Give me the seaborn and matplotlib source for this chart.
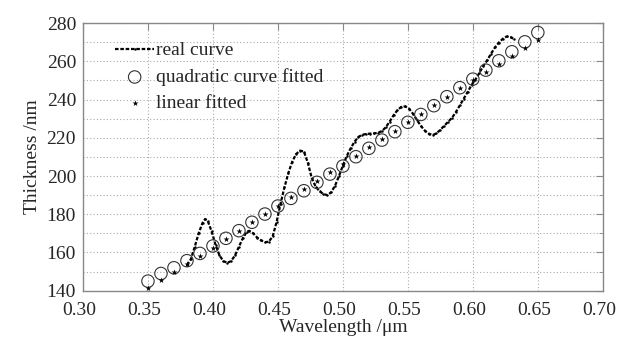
import numpy as np
import pandas as pd
import matplotlib
matplotlib.use("Agg")
import matplotlib.pyplot as plt
import matplotlib.transforms as mtransforms
import seaborn as sns
from matplotlib.ticker import MultipleLocator

# fitted points, every 0.01 um
fit_wavelength = [0.35, 0.36, 0.37, 0.38, 0.39, 0.40, 0.41, 0.42, 0.43, 0.44, 0.45,
                  0.46, 0.47, 0.48, 0.49, 0.50, 0.51, 0.52, 0.53, 0.54, 0.55, 0.56,
                  0.57, 0.58, 0.59, 0.60, 0.61, 0.62, 0.63, 0.64, 0.65]
quadratic_fit = [145.0, 149.0, 152.0, 155.7, 159.5, 163.4, 167.4, 171.4, 175.8, 180.1, 184.3,
                 188.3, 192.3, 196.7, 201.0, 205.2, 210.1, 214.5, 218.8, 223.2, 228.1, 232.2,
                 236.8, 241.5, 246.2, 250.7, 255.4, 260.3, 265.0, 270.2, 275.1]
linear_fit = [141.4, 145.6, 149.6, 153.8, 158.0, 162.5, 166.9, 171.3, 175.7, 180.0, 184.4,
              188.8, 193.2, 197.6, 201.9, 206.3, 210.7, 215.1, 219.5, 223.8, 228.2, 232.6,
              237.0, 241.4, 245.8, 250.2, 254.2, 258.4, 262.7, 266.8, 271.1]

# measured curve
real_wavelength = [0.380, 0.383, 0.386, 0.389, 0.392, 0.394, 0.396, 0.399, 0.402, 0.405,
                   0.408, 0.411, 0.414, 0.417, 0.420, 0.423, 0.426, 0.428, 0.431, 0.434,
                   0.437, 0.440, 0.443, 0.446, 0.449, 0.452, 0.455, 0.458, 0.461, 0.464,
                   0.467, 0.470, 0.473, 0.476, 0.479, 0.482, 0.485, 0.488, 0.491, 0.494,
                   0.497, 0.500, 0.503, 0.506, 0.509, 0.512, 0.515, 0.518, 0.521, 0.524,
                   0.527, 0.530, 0.533, 0.536, 0.539, 0.542, 0.545, 0.548, 0.551, 0.554,
                   0.557, 0.560, 0.563, 0.566, 0.569, 0.572, 0.575, 0.578, 0.581, 0.584,
                   0.587, 0.590, 0.593, 0.596, 0.599, 0.602, 0.605, 0.608, 0.611, 0.614,
                   0.617, 0.620, 0.623, 0.626, 0.629, 0.632]
real_thickness = [153.5, 156.5, 163.0, 170.0, 175.5, 177.5, 176.5, 171.0, 164.0, 158.5,
                  155.5, 154.6, 155.5, 158.5, 163.0, 167.5, 170.8, 171.3, 170.0, 167.8,
                  166.3, 165.4, 165.6, 168.5, 176.0, 185.5, 194.0, 201.5, 207.5, 211.5,
                  213.3, 212.8, 207.0, 199.0, 194.5, 192.0, 190.6, 190.0, 191.5, 195.0,
                  200.0, 205.5, 210.5, 214.5, 218.0, 220.5, 221.6, 222.0, 222.2, 222.3,
                  222.6, 223.5, 225.5, 228.5, 231.8, 234.5, 236.2, 236.4, 235.2, 232.5,
                  229.3, 226.2, 223.8, 222.2, 221.4, 222.3, 224.2, 226.3, 228.4, 230.5,
                  233.5, 237.0, 240.5, 244.0, 247.6, 250.5, 254.0, 257.5, 260.5, 264.0,
                  267.3, 269.8, 271.8, 273.0, 272.6, 271.6]

real_df = pd.DataFrame({"wavelength": real_wavelength, "thickness": real_thickness})
fit_df = pd.DataFrame({"wavelength": fit_wavelength, "quadratic": quadratic_fit,
                       "linear": linear_fit})

sns.set_style("white")
plt.rcParams["font.family"] = ["Liberation Serif", "DejaVu Serif"]

fig = plt.figure(figsize=(6.17, 3.40), dpi=100)
ax = fig.add_axes([0.1345, 0.145, 0.8425, 0.787])

sns.lineplot(data=real_df, x="wavelength", y="thickness", ax=ax, color="black",
             linewidth=1.6, linestyle=(0, (1.6, 0.8)), marker=".", markersize=3.5,
             markeredgewidth=0, estimator=None, sort=False, label="real curve")
sns.scatterplot(data=fit_df, x="wavelength", y="quadratic", ax=ax, marker="o",
                s=80, facecolor="none", edgecolor="#333333", linewidth=0.8,
                label="quadratic curve fitted", zorder=3)
sns.scatterplot(data=fit_df, x="wavelength", y="linear", ax=ax, marker="*",
                s=20, color="black", linewidth=0, label="linear fitted", zorder=4)

ax.set_xlim(0.30, 0.70)
ax.set_ylim(140, 280)
ax.xaxis.set_major_locator(MultipleLocator(0.05))
ax.yaxis.set_major_locator(MultipleLocator(20))
ax.yaxis.set_minor_locator(MultipleLocator(10))
ax.set_xticks(ax.get_xticks())
ax.set_xticklabels([f"{v:.2f}" for v in ax.get_xticks()])
ax.set_xlim(0.30, 0.70)
ax.grid(True, which="both", linestyle=(0, (1, 2)), color="#aaaaaa", linewidth=0.8)
ax.tick_params(which="both", direction="in", top=True, right=True, labelsize=14,
               color="#888888", pad=5)
ax.tick_params(axis="x", which="both", pad=8)
ax.tick_params(which="major", length=5)
ax.tick_params(which="minor", length=3)
for s in ax.spines.values():
    s.set_color("#888888")
    s.set_linewidth(1.0)

# tick labels in the original sit a little left of their ticks
shift = mtransforms.ScaledTranslation(-4 / 100, 0, fig.dpi_scale_trans)
for lab in ax.get_xticklabels():
    lab.set_transform(lab.get_transform() + shift)

ax.set_xlabel("Wavelength /μm", fontsize=14, labelpad=0)
ax.set_ylabel("Thickness /nm", fontsize=14, labelpad=4)

ax.legend(loc="upper left", frameon=False, fontsize=14, handlelength=2.0,
          handletextpad=0.1, labelspacing=0.45, borderpad=0, borderaxespad=0,
          bbox_to_anchor=(0.062, 0.93))

fig.savefig("out.png", dpi=100)
